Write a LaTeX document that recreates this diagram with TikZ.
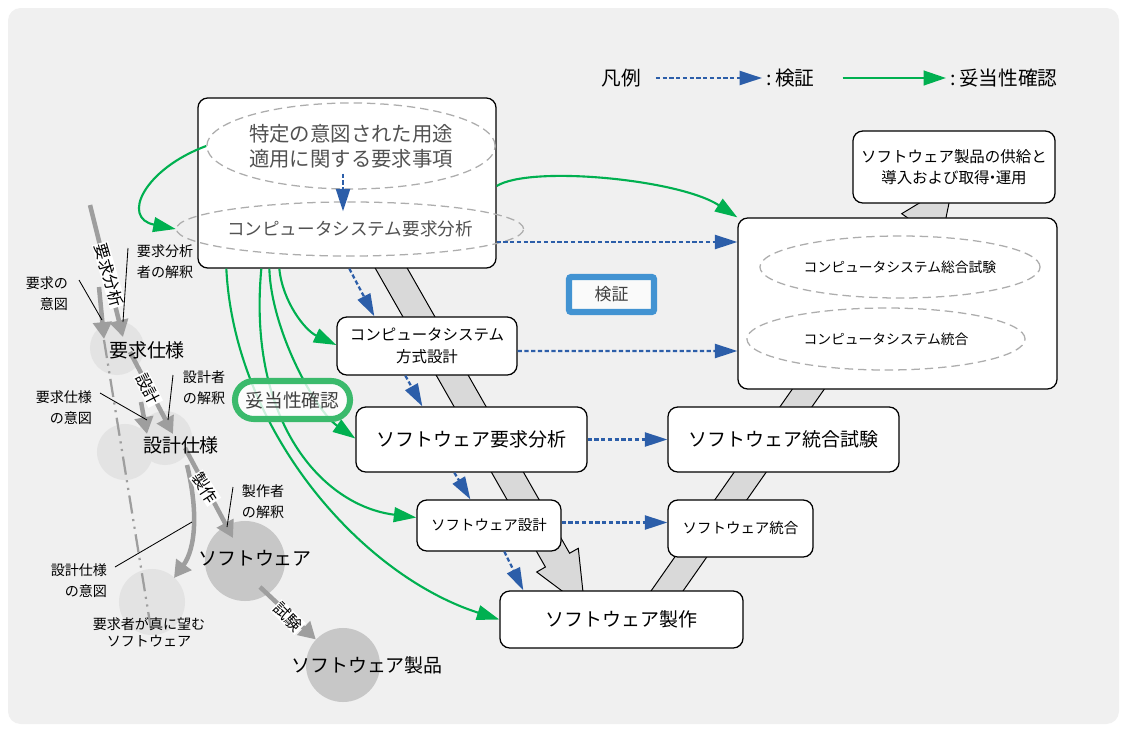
\documentclass[tikz,border=0pt]{standalone}
\usepackage{fontspec}
\setmainfont{Noto Sans CJK JP}
\usetikzlibrary{arrows.meta,shapes.geometric,calc}
\definecolor{backGray}{HTML}{F0F0F0}
\definecolor{checkBlue}{HTML}{2C5EA9}
\definecolor{validGreen}{HTML}{00B050}
\definecolor{tagBlue}{HTML}{4293D2}
\definecolor{tagGreen}{HTML}{3BBA6C}
\colorlet{bandGray}{black!15}
\colorlet{ghostGray}{black!11}
\colorlet{blobGray}{black!22}
\colorlet{stepGray}{black!38}
\colorlet{dashGray}{black!32}
\colorlet{softText}{black!68}
\NewDocumentCommand\DrawTag{mmmm}%
{%
\node[stagetag,rotate=#4] (#1) at (#2) {#3};%
}

\begin{document}
\begin{tikzpicture}[x=0.025cm,y=-0.025cm,
  stage/.style={draw,line width=0.9pt,fill=white,rounded corners=7pt,inner sep=0pt,align=center},
  dashoval/.style={ellipse,draw=dashGray,line width=0.9pt,dash pattern=on 6pt off 3.5pt,inner sep=0pt,align=center},
  checkline/.style={checkBlue,line width=1.6pt,dash pattern=on 3pt off 1.8pt,-{Triangle[length=16pt,width=10pt]}},
  validline/.style={validGreen,line width=1.5pt,-{Triangle[length=16pt,width=10.5pt]}},
  sketch/.style={stepGray,line width=3.2pt,-{Triangle[length=12pt,width=13pt]}},
  ghost/.style={circle,fill=ghostGray,inner sep=0pt},
  blob/.style={circle,fill=blobGray,inner sep=0pt},
  pointer/.style={line width=0.6pt},
  stagetag/.style={fill=white,inner sep=0.6pt,font=\fontsize{11.5}{12}\selectfont},
  notetext/.style={align=center,inner sep=0.5pt,font=\fontsize{10}{15}\selectfont},
  bigtext/.style={inner sep=0.5pt,font=\fontsize{13.5}{16}\selectfont},
  legendtext/.style={inner sep=0pt,font=\fontsize{14}{16}\selectfont},
]
\useasboundingbox (0,0) rectangle (1126,731);
\fill[backGray,rounded corners=9pt] (8,8) rectangle (1119,724);

% V band
\filldraw[fill=bandGray,line width=0.7pt] (370,259) -- (545.4,567) -- (536.7,572) -- (584.7,607.9) -- (578.3,548.3) -- (569.6,553.2) -- (402,259) -- cycle;
\filldraw[fill=bandGray,line width=0.7pt] (644.7,600) -- (910.7,220) -- (901.7,213.7) -- (953.2,182.5) -- (941.2,241.3) -- (932.2,235) -- (676.7,600) -- cycle;

% left sketch
\node[ghost,minimum size=1.35cm] (reqCirc) at (117,348) {};
\node[ghost,minimum size=1.4cm] (desGhost) at (125,452) {};
\node[ghost,minimum size=1.35cm] (desCirc) at (165,438) {};
\node[ghost,minimum size=1.65cm] (wantCirc) at (152,602) {};
\node[blob,minimum size=2cm] (swCirc) at (245,561) {};
\node[blob,minimum size=1.85cm] (prodCirc) at (343,665) {};
\draw[stepGray,line width=1.6pt,dash pattern=on 13pt off 4pt on 1.5pt off 4pt on 1.5pt off 4pt] (104,340) -- (wantCirc.south);
\coordinate (intentTop) at (90,205);
\coordinate (reqTipL) at (104,339);
\coordinate (reqTipR) at (123,337);
\coordinate (reqOut) at (130,352);
\coordinate (desTipL) at (147,434);
\coordinate (desTipR) at (173,434);
\coordinate (desOut) at (185,448);
\coordinate (swTip) at (233,538);
\coordinate (wantTip) at (174,578);
\draw[sketch] (intentTop) -- (reqTipR);
\draw[sketch] (99,287) -- (reqTipL);
\draw[sketch] (reqOut) -- (desTipR);
\draw[sketch] (141,402) -- (desTipL);
\draw[sketch] (desOut) -- (swTip);
\draw[sketch] (187,465) .. controls (198,510) and (196,548) .. (wantTip);
\draw[sketch] ($(swCirc)+(15,26)$) -- (prodCirc);
\DrawTag{analysisTag}{109,275}{要求分析}{-74}
\DrawTag{designTag}{148,389}{設計}{-63}
\DrawTag{makeTag}{205,488}{製作}{-57}
\DrawTag{testTag}{288,617}{試験}{-45}
\node[bigtext] (reqSpec) at (147,350) {要求仕様};
\node[bigtext] (desSpec) at (181,445) {設計仕様};
\node[bigtext] (swText) at (255,558) {ソフトウェア};
\node[bigtext] (prodText) at (367,665) {ソフトウェア製品};
\node[notetext,font=\fontsize{10}{12}\selectfont] (wantText) at (149,632) {要求者が真に望む\\ソフトウェア};
\node[notetext,align=right,anchor=east] (reqIntent) at (69,294) {要求の\\意図};
\node[notetext,align=left,anchor=west] (anaInterp) at (136,262) {要求分析\\者の解釈};
\node[notetext,align=right,anchor=east] (specIntent) at (93,408) {要求仕様\\の意図};
\node[notetext,align=left,anchor=west] (desInterp) at (182,388) {設計者\\の解釈};
\node[notetext,align=left,anchor=west] (makeInterp) at (241,502) {製作者\\の解釈};
\node[notetext,align=right,anchor=east] (desIntent) at (108,581) {設計仕様\\の意図};
\draw[pointer] ($(reqIntent.east)+(10,-14)$) -- (102,320);
\draw[pointer] ($(anaInterp.west)+(-8,-14)$) -- (123,322);
\draw[pointer] ($(specIntent.east)+(7,-15)$) -- (147,420);
\draw[pointer] ($(desInterp.west)+(-9,-13)$) -- (168,420);
\draw[pointer] ($(makeInterp.west)+(-8,-15)$) -- (227,527);
\draw[pointer] ($(desIntent.east)+(7,-14)$) -- (192,522);

% process boxes
\node[stage,minimum width=7.45cm,minimum height=4.25cm] (topbox) at (347,183) {};
\node[dashoval,minimum width=6.95cm,minimum height=2.15cm,text=softText,font=\fontsize{14.5}{18}\selectfont] (purpose) at (351,146) {特定の意図された用途\\適用に関する要求事項};
\node[dashoval,minimum width=7cm,minimum height=1.35cm,text=softText,font=\fontsize{12.5}{15}\selectfont] (sysreq) at (350,229) {コンピュータシステム要求分析};
\node[stage,minimum width=5.05cm,minimum height=1.8cm,font=\fontsize{11}{14.5}\selectfont] (supply) at (954,167) {ソフトウェア製品の供給と\\導入および取得{\kern-0.3em}・{\kern-0.3em}運用};
\node[stage,minimum width=7.975cm,minimum height=4.275cm] (sysbox) at (897.5,303.5) {};
\node[dashoval,minimum width=7cm,minimum height=1.55cm,font=\fontsize{9.8}{12}\selectfont] (systest) at (900,267) {コンピュータシステム総合試験};
\node[dashoval,minimum width=6.95cm,minimum height=1.55cm,font=\fontsize{9.8}{12}\selectfont] (sysint) at (886,339) {コンピュータシステム統合};
\node[stage,minimum width=4.5cm,minimum height=1.45cm,font=\fontsize{11}{15.5}\selectfont] (archdes) at (427,346) {コンピュータシステム\\方式設計};
\node[stage,minimum width=5.775cm,minimum height=1.625cm,bigtext] (swreq) at (471.5,439.5) {ソフトウェア要求分析};
\node[stage,minimum width=3.6cm,minimum height=1.275cm,font=\fontsize{10.3}{12}\selectfont] (swdes) at (489,525.5) {ソフトウェア設計};
\node[stage,minimum width=6.075cm,minimum height=1.425cm,bigtext] (swcode) at (621.5,619.5) {ソフトウェア製作};
\node[stage,minimum width=5.775cm,minimum height=1.625cm,bigtext] (swtest) at (783.5,439.5) {ソフトウェア統合試験};
\node[stage,minimum width=3.625cm,minimum height=1.425cm,font=\fontsize{10.3}{12}\selectfont] (swint) at (740.5,528.5) {ソフトウェア統合};
\node[draw=tagBlue,line width=4.3pt,fill=black!2,rounded corners=1.5pt,minimum width=2.125cm,minimum height=0.875cm,inner sep=0pt,text=black!75,font=\fontsize{12}{14}\selectfont] (checkTag) at (611.5,294.5) {検証};

% verification
\draw[checkline] ($(purpose.south)+(-8,-16)$) -- ($(sysreq.north)+(-7,10)$);
\draw[checkline] ($(topbox.east)+(0,59)$) -- ($(sysbox.west)+(0,-61.5)$);
\draw[checkline] ($(archdes.east)+(0,5)$) -- ($(sysbox.west)+(0,47.5)$);
\draw[checkline] (swreq) -- (swtest);
\draw[checkline] ($(swdes.east)+(0,-3)$) -- ($(swint.west)+(0,-6)$);
\draw[checkline] ($(topbox.south west)+(152,0)$) -- ($(archdes.north west)+(38,0)$);
\draw[checkline] ($(archdes.south west)+(69,0)$) -- ($(swreq.north west)+(67,0)$);
\draw[checkline] ($(swreq.south west)+(99,0)$) -- ($(swdes.north west)+(54,0)$);
\draw[checkline] ($(swdes.south west)+(88,0)$) -- ($(swcode.north west)+(24,0)$);

% validation
\draw[validline] (purpose.west) .. controls +(-62,23) and +(-55,-11) .. (sysreq.west);
\draw[validline] ($(topbox.east)+(0,3)$) .. controls +(34,-21) and +(-58,-38) .. (sysbox.north west);
\draw[validline] ($(topbox.south west)+(29,0)$) .. controls +(8,160) and +(-140,-45) .. (swcode.west);
\draw[validline] ($(topbox.south west)+(64,0)$) .. controls +(-14,152) and +(-95,-12) .. ($(swdes.west)+(0,-8)$);
\draw[validline] ($(topbox.south west)+(72,0)$) .. controls +(2,62) and +(-40,-28) .. ($(swreq.west)+(0,-1)$);
\draw[validline] ($(topbox.south west)+(82,0)$) .. controls +(3,32) and +(-32,-15) .. ($(archdes.west)+(0,-1)$);
\node[draw=tagGreen,line width=4.3pt,fill=white,fill opacity=0.8,text opacity=1,rounded corners=0.47cm,minimum width=2.875cm,minimum height=0.95cm,inner sep=0pt,text=black!75,font=\fontsize{13.3}{15}\selectfont] (validTag) at (292.5,400) {妥当性確認};

% legend
\node[legendtext] (legendHead) at (621,78) {凡例};
\node[legendtext,anchor=west] (checkKey) at (766,78) {:\,検証};
\node[legendtext,anchor=west] (validKey) at (950,78) {:\,妥当性確認};
\draw[checkline] ($(legendHead.east)+(15,0)$) -- ($(checkKey.west)+(-4,0)$);
\draw[validline] ($(checkKey.east)+(28,0)$) -- ($(validKey.west)+(-4,0)$);
\end{tikzpicture}
\end{document}
